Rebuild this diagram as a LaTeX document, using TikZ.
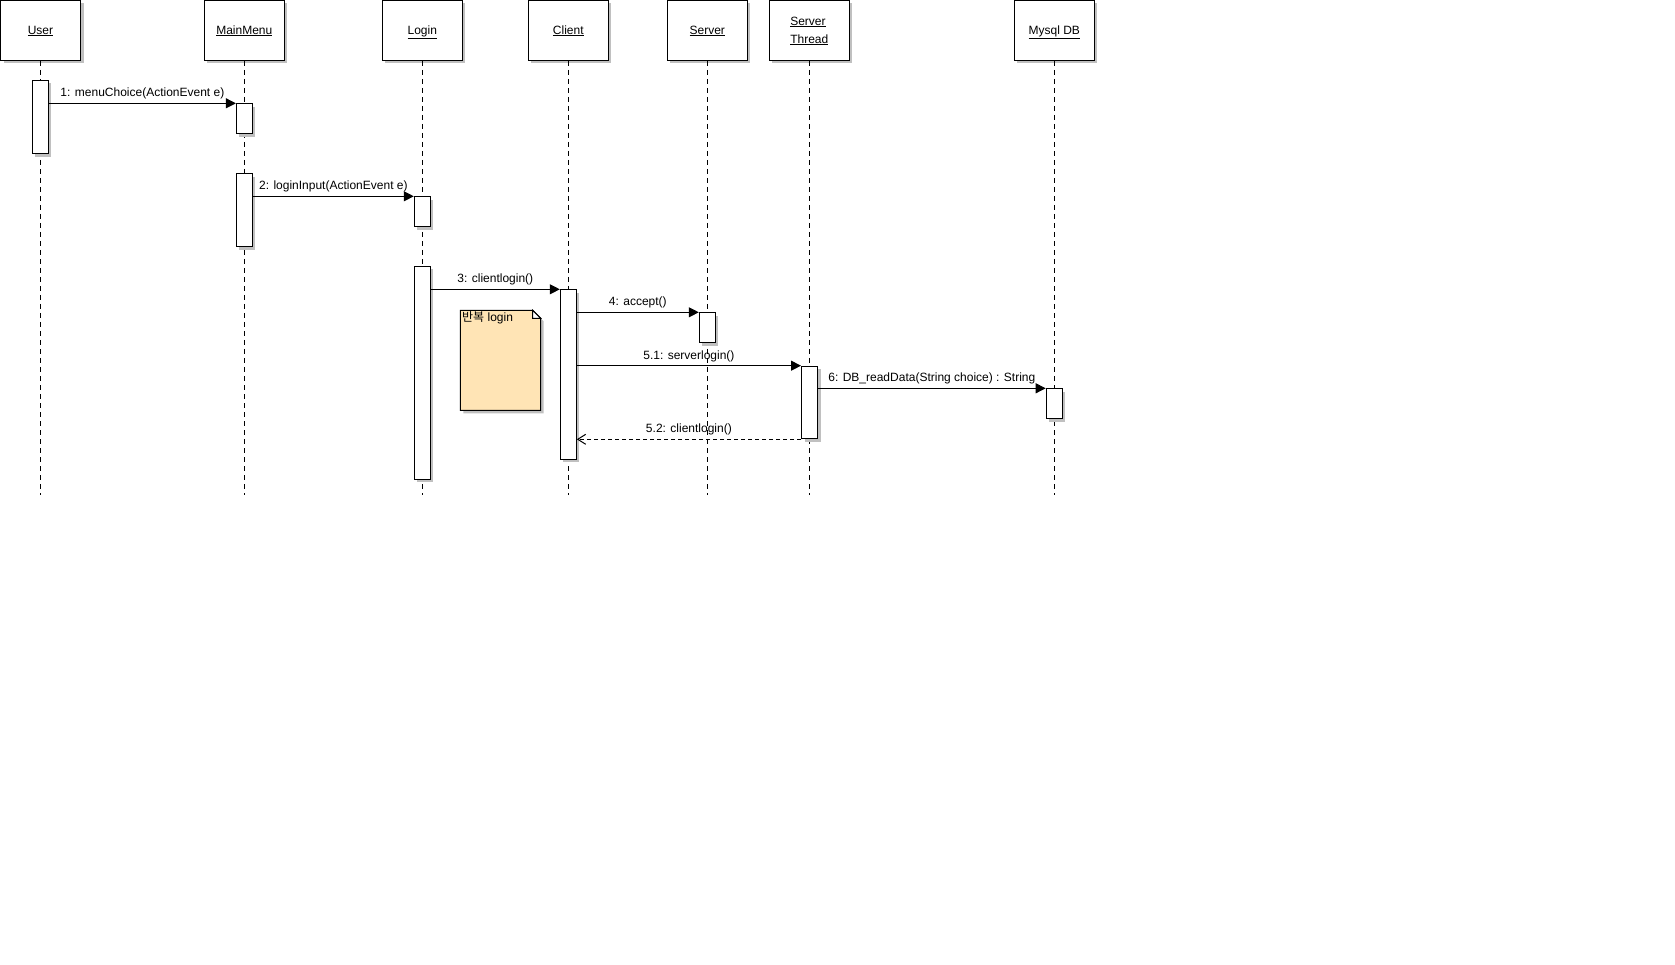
\documentclass[tikz,border=0pt]{standalone}
\usepackage{fontspec}
\setmainfont{Liberation Sans}
\newfontfamily\krfont{Noto Sans CJK KR}
\usetikzlibrary{arrows.meta,shadows}
\definecolor{shadowc}{RGB}{192,192,192}
\definecolor{notec}{RGB}{255,228,181}
\newcommand{\objlabel}[1]{\raisebox{-3.5pt}{\begin{tabular}{@{}l@{}}#1\end{tabular}}}
\begin{document}
\begin{tikzpicture}[x=1pt,y=-1pt,
  every node/.style={font=\fontsize{12pt}{18pt}\selectfont, inner sep=0pt},
  shd/.style={drop shadow={shadow xshift=3pt, shadow yshift=-3pt, fill=shadowc, opacity=1}},
  obj/.style={draw, fill=white, line width=1pt, minimum width=80pt, minimum height=60pt, shd},
  act/.style={draw, fill=white, line width=1pt, minimum width=16pt, anchor=north, shd},
  life/.style={line width=1pt, dash pattern=on 5pt off 4pt},
  msg/.style={line width=1pt, -{Triangle[length=10pt,width=10pt]}},
  ret/.style={line width=1pt, dash pattern=on 4pt off 3pt, -{Straight Barb[length=8pt,width=10pt]}},
  lbl/.style={midway, above=3.5pt}
]
\useasboundingbox (0,0) rectangle (1675,965);

% objects
\node[obj] (user) at (40.5,30.5) {\objlabel{\underline{User}}};
\node[obj] (menu) at (244.3,30.5) {\objlabel{\underline{MainMenu}}};
\node[obj] (login) at (422.3,30.5) {\objlabel{\underline{Login}}};
\node[obj] (client) at (568.3,30.5) {\objlabel{\underline{Client}}};
\node[obj] (server) at (707.3,30.5) {\objlabel{\underline{Server}}};
\node[obj] (sthread) at (809.3,30.5) {\objlabel{\underline{Server}\\\underline{Thread}}};
\node[obj] (db) at (1054.3,30.5) {\objlabel{\underline{Mysql DB}}};

% lifeline ends
\coordinate (userE) at (40.5,495);
\coordinate (menuE) at (244.3,495);
\coordinate (loginE) at (422.3,495);
\coordinate (clientE) at (568.3,495);
\coordinate (serverE) at (707.3,495);
\coordinate (sthreadE) at (809.3,495);
\coordinate (dbE) at (1054.3,495);

\draw[life] (user.south) -- (userE);
\draw[life] (menu.south) -- (menuE);
\draw[life] (login.south) -- (loginE);
\draw[life] (client.south) -- (clientE);
\draw[life] (server.south) -- (serverE);
\draw[life] (sthread.south) -- (sthreadE);
\draw[life] (db.south) -- (dbE);

% activations
\node[act, minimum height=73.3pt] (u1) at (40.4,80) {};
\node[act, minimum height=30pt] (m1) at (244.4,103.3) {};
\node[act, minimum height=73pt] (m2) at (244.4,173.3) {};
\node[act, minimum height=30pt] (l1) at (422.3,196.3) {};
\node[act, minimum height=212.7pt] (l2) at (422.3,266) {};
\node[act, minimum height=169.4pt] (c1) at (568.3,289.3) {};
\node[act, minimum height=30pt] (s1) at (707.3,312.3) {};
\node[act, minimum height=72.6pt] (t1) at (809.5,365.7) {};
\node[act, minimum height=30pt] (d1) at (1054.2,388.3) {};

% messages
\draw[msg] (u1.east |- m1.north west) -- (m1.north west) node[lbl] {1: menuChoice(ActionEvent e)};
\draw[msg] (m2.east |- l1.north west) -- (l1.north west) node[lbl] {2: loginInput(ActionEvent e)};
\draw[msg] (l2.east |- c1.north west) -- (c1.north west) node[lbl] {3: clientlogin()};
\draw[msg] (c1.east |- s1.north west) -- (s1.north west) node[lbl] {4: accept()};
\draw[msg] (c1.east |- t1.north west) -- (t1.north west) node[lbl] {5.1: serverlogin()};
\draw[msg] (t1.east |- d1.north west) -- (d1.north west) node[lbl] {6: DB\_readData(String choice) : String};
\draw[ret] (t1.south west) -- (c1.east |- t1.south west) node[lbl] {5.2: clientlogin()};

% note
\fill[shadowc] (463.3,313.3) -- (535.7,313.3) -- (543.7,321.3) -- (543.7,413.3) -- (463.3,413.3) -- cycle;
\filldraw[fill=notec, line width=1pt] (460.3,310.3) -- (532.7,310.3) -- (540.7,318.3) -- (540.7,410.3) -- (460.3,410.3) -- cycle;
\filldraw[fill=white, line width=1pt] (532.7,310.3) -- (532.7,318.3) -- (540.7,318.3) -- cycle;
\node[anchor=north west] (note) at (462,311.5) {{\krfont 반복} login};
\end{tikzpicture}
\end{document}
